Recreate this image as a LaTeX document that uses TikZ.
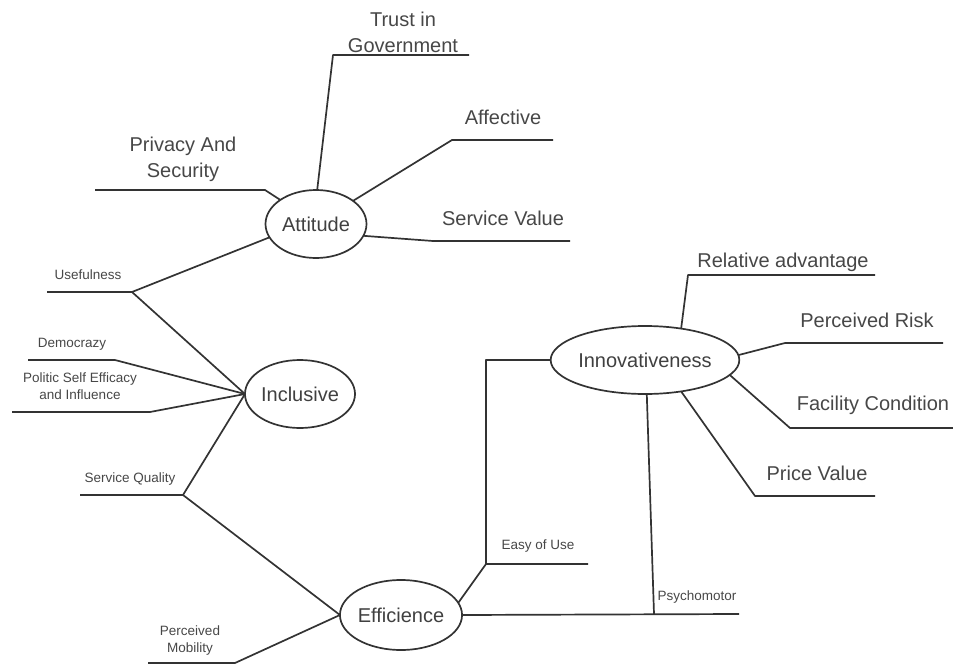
\documentclass[tikz,border=0pt]{standalone}
\usepackage{fontspec}
\setmainfont{Liberation Sans}
\usetikzlibrary{shapes.geometric}
\begin{document}
\begin{tikzpicture}[x=1pt,y=-1pt,
  conn/.style={draw=black!80,line width=1.7pt,line join=round},
  hub/.style={ellipse,draw=black!80,line width=1.7pt,inner sep=0pt,outer sep=0pt,text=black!75,font=\fontsize{20}{24}\selectfont},
  big/.style={text=black!72,align=center,inner sep=0pt,font=\fontsize{20}{26}\selectfont},
  small/.style={text=black!72,align=center,inner sep=0pt,font=\fontsize{13.5}{17}\selectfont}]
\useasboundingbox (0,0) rectangle (953,669);
% hubs
\node[hub,minimum width=101pt,minimum height=68pt] (att) at (316,224) {Attitude};
\node[hub,minimum width=104pt,minimum height=68pt] (inc) at (300,394) {Inclusive};
\node[hub,minimum width=104pt,minimum height=70pt] (eff) at (401,615) {Efficience};
\node[hub,minimum width=186pt,minimum height=68pt] (inn) at (645,360) {Innovativeness};
% junction coordinates
\coordinate (trustJ) at (333,55);  \coordinate (trustE) at (469,55);
\coordinate (affJ) at (452,140);   \coordinate (affE) at (553,140);
\coordinate (privJ) at (265,190);  \coordinate (privS) at (95,190);
\coordinate (svJ) at (433,241);    \coordinate (svE) at (570,241);
\coordinate (useJ) at (132,292);   \coordinate (useS) at (47,292);
\coordinate (demJ) at (115,360);   \coordinate (demS) at (28,360);
\coordinate (polJ) at (150,412);   \coordinate (polS) at (12,412);
\coordinate (sqJ) at (183,495);    \coordinate (sqS) at (80,495);
\coordinate (pmJ) at (235,663);    \coordinate (pmS) at (148,663);
\coordinate (easyJ) at (486,564);  \coordinate (easyE) at (588,564);
\coordinate (innJ) at (486,360);
\coordinate (psyJ) at (654,614);   \coordinate (psyE) at (739,614);
\coordinate (relJ) at (688,275);   \coordinate (relE) at (875,275);
\coordinate (riskJ) at (785,343);  \coordinate (riskE) at (943,343);
\coordinate (facJ) at (790,428);   \coordinate (facE) at (953,428);
\coordinate (priceJ) at (755,496); \coordinate (priceE) at (875,496);
% connectors: Attitude
\draw[conn] (att.88) -- (trustJ) -- (trustE);
\draw[conn] (att.32) -- (affJ) -- (affE);
\draw[conn] (att.146) -- (privJ) -- (privS);
\draw[conn] (att.346) -- (svJ) -- (svE);
\draw[conn] (att.196) -- (useJ) -- (useS);
% Inclusive
\draw[conn] (useJ) -- (inc.west);
\draw[conn] (demS) -- (demJ) -- (inc.west);
\draw[conn] (polS) -- (polJ) -- (inc.west);
\draw[conn] (inc.west) -- (sqJ) -- (sqS);
% Efficience
\draw[conn] (sqJ) -- (eff.west);
\draw[conn] (eff.west) -- (pmJ) -- (pmS);
\draw[conn] (eff.12) -- (easyJ) -- (easyE);
\draw[conn] (easyJ) -- (innJ) -- (inn.west);
\draw[conn] (eff.east) -- (psyE);
\draw[conn] (inn.273) -- (psyJ);
% Innovativeness
\draw[conn] (inn.41) -- (relJ) -- (relE);
\draw[conn] (inn.3) -- (riskJ) -- (riskE);
\draw[conn] (inn.350) -- (facJ) -- (facE);
\draw[conn] (inn.319) -- (priceJ) -- (priceE);
% labels
\node[big] (lTrust) at (403,32) {Trust in\\Government};
\node[big] (lAff) at (503,117) {Affective};
\node[big] (lPriv) at (183,159) {Privacy And\\Security};
\node[big] (lSV) at (503,218) {Service Value};
\node[small] (lUse) at (88,275) {Usefulness};
\node[small] (lDem) at (72,344) {Democrazy};
\node[small] (lPol) at (80,386) {Politic Self Efficacy\\and Influence};
\node[small] (lSQ) at (130,479) {Service Quality};
\node[small] (lPM) at (190,641) {Perceived\\Mobility};
\node[small] (lEasy) at (538,546) {Easy of Use};
\node[small] (lPsy) at (697,597) {Psychomotor};
\node[big] (lRel) at (783,262) {Relative advantage};
\node[big] (lRisk) at (867,320) {Perceived Risk};
\node[big] (lFac) at (873,405) {Facility Condition};
\node[big] (lPrice) at (817,473) {Price Value};
\end{tikzpicture}
\end{document}
